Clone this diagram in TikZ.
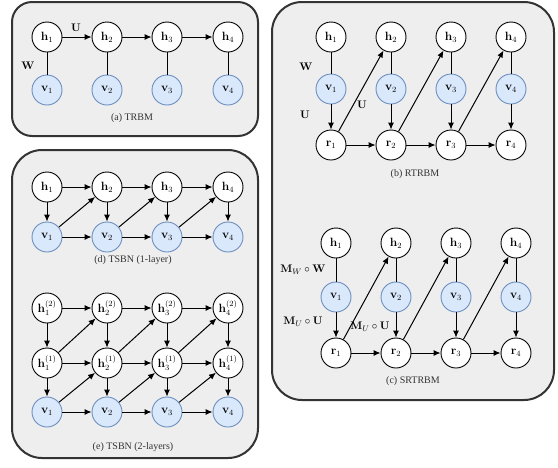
\documentclass[tikz,border=0pt]{standalone}
\usepackage[no-math]{fontspec}
\setmainfont{Liberation Serif}
\usetikzlibrary{arrows.meta}
\definecolor{panelfill}{HTML}{EEEEEE}
\definecolor{panelline}{HTML}{333333}
\definecolor{visfill}{HTML}{DAE8FC}
\definecolor{visline}{HTML}{6C8EBF}
\begin{document}
\begin{tikzpicture}[x=1pt,y=-1pt,
  panel/.style={draw=panelline, fill=panelfill, line width=2pt},
  hid/.style={circle, draw=black, fill=white, line width=0.9pt, minimum size=30pt,
    inner sep=0pt, font=\fontsize{11.5}{13}\selectfont},
  vis/.style={hid, draw=visline, fill=visfill},
  link/.style={line width=1pt},
  arr/.style={link, -{Latex[length=7pt,width=6pt]}},
  lbl/.style={font=\fontsize{11}{13}\selectfont},
  caption/.style={font=\fontsize{10}{12}\selectfont, text=black!80}]
\useasboundingbox (0,0) rectangle (558,467);

% ---------- panels ----------
\draw[panel, rounded corners=20pt] (12,2) rectangle (258,136);
\draw[panel, rounded corners=30pt] (272,2) rectangle (554,400);
\draw[panel, rounded corners=30pt] (12,150) rectangle (258,458);

% ---------- (a) TRBM ----------
\foreach \i/\x in {1/47,2/107,3/167,4/228} {
  \node[hid] (a-h\i) at (\x,37) {$\mathbf{h}_{\i}$};
  \node[vis] (a-v\i) at (\x,90) {$\mathbf{v}_{\i}$};
  \draw[link] (a-h\i) -- (a-v\i);
}
\foreach \i [evaluate=\i as \j using int(\i+1)] in {1,2,3}
  \draw[arr] (a-h\i) -- (a-h\j);
\node[lbl] (a-w) at (28,66) {$\mathbf{W}$};
\node[lbl] (a-u) at (76,28) {$\mathbf{U}$};
\node[caption] (a-cap) at (132,118) {(a) TRBM};

% ---------- (b) RTRBM ----------
\foreach \i/\x in {1/331,2/391,3/451,4/511} {
  \node[hid] (b-h\i) at (\x,37) {$\mathbf{h}_{\i}$};
  \node[vis] (b-v\i) at (\x,89) {$\mathbf{v}_{\i}$};
  \node[hid] (b-r\i) at (\x,145) {$\mathbf{r}_{\i}$};
  \draw[link] (b-h\i) -- (b-v\i);
  \draw[arr] (b-v\i) -- (b-r\i);
}
\foreach \i [evaluate=\i as \j using int(\i+1)] in {1,2,3} {
  \draw[arr] (b-r\i) -- (b-r\j);
  \draw[arr] (b-r\i) -- (b-h\j);
}
\node[lbl] (b-w) at (306,67) {$\mathbf{W}$};
\node[lbl] (b-u1) at (305,115) {$\mathbf{U}$};
\node[lbl] (b-u2) at (362,105) {$\mathbf{U}$};
\node[caption] (b-cap) at (415,174) {(b) RTRBM};

% ---------- (c) SRTRBM ----------
\foreach \i/\x in {1/336,2/396,3/456,4/516} {
  \node[hid] (c-h\i) at (\x,243) {$\mathbf{h}_{\i}$};
  \node[vis] (c-v\i) at (\x,297) {$\mathbf{v}_{\i}$};
  \node[hid] (c-r\i) at (\x,353) {$\mathbf{r}_{\i}$};
  \draw[link] (c-h\i) -- (c-v\i);
  \draw[arr] (c-v\i) -- (c-r\i);
}
\foreach \i [evaluate=\i as \j using int(\i+1)] in {1,2,3} {
  \draw[arr] (c-r\i) -- (c-r\j);
  \draw[arr] (c-r\i) -- (c-h\j);
}
\node[lbl] (c-w) at (303,270) {$\mathbf{M}_W\circ\mathbf{W}$};
\node[lbl] (c-u1) at (303,322) {$\mathbf{M}_U\circ\mathbf{U}$};
\node[lbl] (c-u2) at (370,327) {$\mathbf{M}_U\circ\mathbf{U}$};
\node[caption] (c-cap) at (413,381) {(c) SRTRBM};

% ---------- (d) TSBN, one layer ----------
\foreach \i/\x in {1/47,2/107,3/167,4/228} {
  \node[hid] (d-h\i) at (\x,187) {$\mathbf{h}_{\i}$};
  \node[vis] (d-v\i) at (\x,237) {$\mathbf{v}_{\i}$};
  \draw[arr] (d-h\i) -- (d-v\i);
}
\foreach \i [evaluate=\i as \j using int(\i+1)] in {1,2,3} {
  \draw[arr] (d-h\i) -- (d-h\j);
  \draw[arr] (d-v\i) -- (d-v\j);
  \draw[arr] (d-v\i) -- (d-h\j);
}
\node[caption] (d-cap) at (133,260) {(d) TSBN (1-layer)};

% ---------- (e) TSBN, two layers ----------
\foreach \i/\x in {1/47,2/107,3/167,4/228} {
  \node[hid] (e-g\i) at (\x,308) {$\mathbf{h}^{(2)}_{\i}$};
  \node[hid] (e-h\i) at (\x,363) {$\mathbf{h}^{(1)}_{\i}$};
  \node[vis] (e-v\i) at (\x,412) {$\mathbf{v}_{\i}$};
  \draw[arr] (e-g\i) -- (e-h\i);
  \draw[arr] (e-h\i) -- (e-v\i);
}
\foreach \i [evaluate=\i as \j using int(\i+1)] in {1,2,3} {
  \draw[arr] (e-g\i) -- (e-g\j);
  \draw[arr] (e-h\i) -- (e-h\j);
  \draw[arr] (e-v\i) -- (e-v\j);
  \draw[arr] (e-h\i) -- (e-g\j);
  \draw[arr] (e-v\i) -- (e-h\j);
}
\node[caption] (e-cap) at (133,447) {(e) TSBN (2-layers)};
\end{tikzpicture}
\end{document}
